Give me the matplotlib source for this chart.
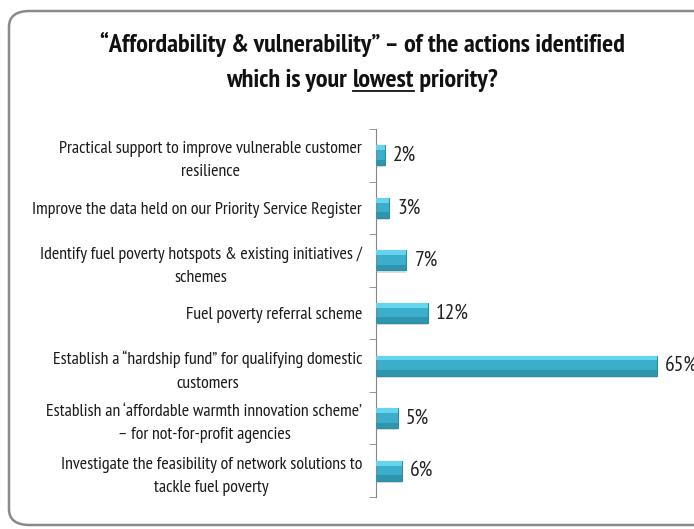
import matplotlib.pyplot as plt
from matplotlib.patches import FancyBboxPatch
from matplotlib.lines import Line2D

categories = [
    "Practical support to improve vulnerable customer\nresilience",
    "Improve the data held on our Priority Service Register",
    "Identify fuel poverty hotspots & existing initiatives /\nschemes",
    "Fuel poverty referral scheme",
    "Establish a \u201chardship fund\u201d for qualifying domestic\ncustomers",
    "Establish an \u2018affordable warmth innovation scheme\u2019\n\u2013 for not-for-profit agencies",
    "Investigate the feasibility of network solutions to\ntackle fuel poverty",
]
values = [2, 3, 7, 12, 65, 5, 6]
value_labels = ["2%", "3%", "7%", "12%", "65%", "5%", "6%"]
title1 = "\u201cAffordability & vulnerability\u201d \u2013 of the actions identified"
title2 = ["which is your ", "lowest", " priority?"]

font = "PT Sans Narrow"
plt.rcParams['font.family'] = [font, 'DejaVu Sans']

fig = plt.figure(figsize=(6.94, 5.29), dpi=100)
renderer = fig.canvas.get_renderer()


def fit_size(s, target_px, weight='normal'):
    # font size that gives the text the width seen in the reference
    t = fig.text(0, 0, s, fontsize=10, fontweight=weight)
    w = t.get_window_extent(renderer).width
    t.remove()
    return 10 * target_px / w


title_fs = fit_size(title1, 528, 'bold')
label_fs = fit_size(categories[1], 334)
value_fs = fit_size("12%", 33)

# rounded frame around the whole chart (right side runs off the picture)
frame = FancyBboxPatch((9 / 694, 4 / 529), 760 / 694, 514 / 529,
                       boxstyle="round,pad=0,rounding_size=0.03",
                       transform=fig.transFigure, facecolor='none',
                       edgecolor='#8a8a8a', linewidth=1.8, clip_on=False)
fig.patches.append(frame)

cx = 362
fig.text(cx / 694, 1 - 52 / 529, title1, ha='center', va='baseline',
         fontsize=title_fs, fontweight='bold', color='#111111')

# second title line, with "lowest" underlined
texts = [fig.text(0, 1 - 87 / 529, s, ha='left', va='baseline', fontsize=title_fs,
                  fontweight='bold', color='#111111') for s in title2]
widths = [t.get_window_extent(renderer).width for t in texts]
x = cx - sum(widths) / 2
for t, w in zip(texts, widths):
    t.set_x(x / 694)
    if t.get_text() == "lowest":
        uy = 1 - 91 / 529
        fig.lines.append(Line2D([x / 694, (x + w) / 694], [uy, uy], transform=fig.transFigure,
                                color='#111111', linewidth=1.3))
    x += w

ax = fig.add_axes([376 / 694, 1 - 497 / 529, 318 / 694, 368 / 529])
pos = list(range(len(values)))
h = 0.38
# shadow, base bar, darker bottom band, lighter top band (bevel look)
ax.barh([p + 0.04 for p in pos], values, height=h, color='#bdbdbd', alpha=0.5, zorder=1)
ax.barh(pos, values, height=h, color='#3aaecb', edgecolor='#2b8ea6', linewidth=0.8, zorder=2)
ax.barh([p + h * 0.36 for p in pos], values, height=h * 0.28, color='#2f95ad', zorder=3)
ax.barh([p - h * 0.38 for p in pos], values, height=h * 0.24, color='#66d4ee', zorder=3)

for p, v, lab in zip(pos, values, value_labels):
    ax.text(v + 1.9, p, lab, va='center', ha='left', fontsize=value_fs, color='#222222')

xmax = 65 * 318 / 281
ax.set_xlim(0, xmax)
ax.set_ylim(len(values) - 0.5, -0.5)
ax.set_yticks(pos)
ax.set_yticklabels(categories, fontsize=label_fs, linespacing=1.6, ha='right',
                   multialignment='center', color='#1a1a1a')
ax.set_yticks([p + 0.5 for p in range(-1, len(values))], minor=True)
ax.tick_params(axis='y', which='major', length=0, pad=10)
ax.tick_params(axis='y', which='minor', length=5, color='#868686', direction='out')
ax.set_xticks([])
for s in ['top', 'right', 'bottom']:
    ax.spines[s].set_visible(False)
ax.spines['left'].set_color('#868686')
ax.patch.set_alpha(0)

fig.savefig("out.png", dpi=100)
